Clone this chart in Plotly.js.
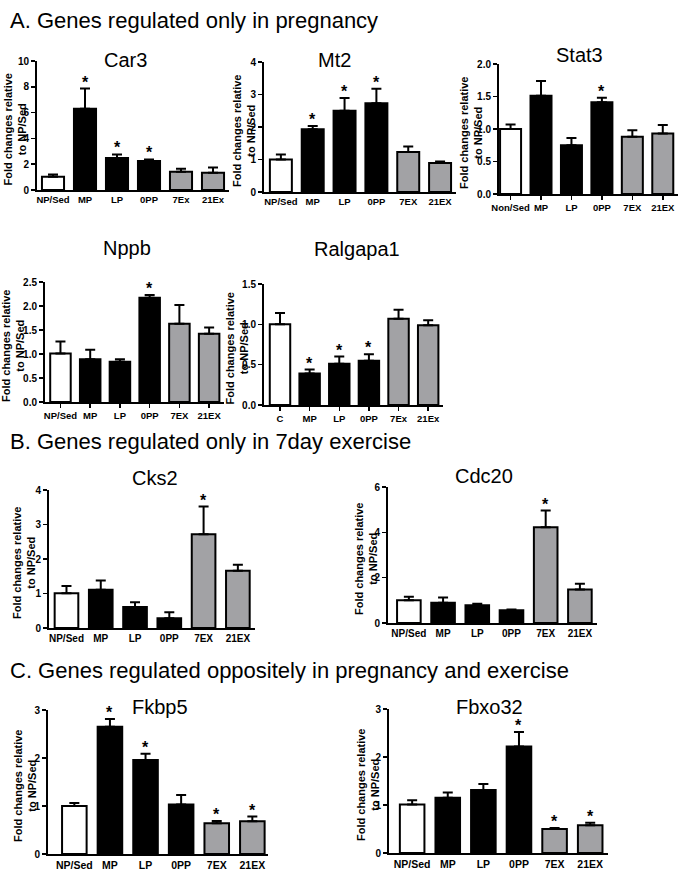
<!DOCTYPE html>
<html><head><meta charset="utf-8">
<script src="https://cdn.plot.ly/plotly-3.0.1.min.js"></script>
<style>body{margin:0;background:#fff}#chart{width:683px;height:874px}</style>
</head><body><div id="chart"></div>
<script>
// ---------- DATA ----------
const car3Groups = ['NP/Sed','MP','LP','0PP','7Ex','21Ex'];
const car3Mean = [1.03, 6.29, 2.48, 2.24, 1.42, 1.34];
const car3Sem  = [0.18, 1.57, 0.28, 0.13, 0.23, 0.41];
const car3Sig  = [0,1,1,1,0,0];

const mt2Groups = ['NP/Sed','MP','LP','0PP','7EX','21EX'];
const mt2Mean = [1.0, 1.93, 2.50, 2.73, 1.23, 0.89];
const mt2Sem  = [0.15, 0.10, 0.39, 0.45, 0.17, 0.05];
const mt2Sig  = [0,1,1,1,0,0];

const stat3Groups = ['Non/Sed','MP','LP','0PP','7EX','21EX'];
const stat3Mean = [1.0, 1.51, 0.75, 1.41, 0.88, 0.93];
const stat3Sem  = [0.07, 0.23, 0.11, 0.07, 0.10, 0.13];
const stat3Sig  = [0,0,0,1,0,0];

const nppbGroups = ['NP/Sed','MP','LP','0PP','7EX','21EX'];
const nppbMean = [1.01, 0.89, 0.84, 2.17, 1.63, 1.42];
const nppbSem  = [0.25, 0.20, 0.05, 0.06, 0.39, 0.13];
const nppbSig  = [0,0,0,1,0,0];

const ralGroups = ['C','MP','LP','0PP','7Ex','21Ex'];
const ralMean = [1.0, 0.39, 0.51, 0.55, 1.07, 0.99];
const ralSem  = [0.14, 0.05, 0.09, 0.08, 0.11, 0.06];
const ralSig  = [0,1,1,1,0,0];

const cks2Groups = ['NP/Sed','MP','LP','0PP','7EX','21EX'];
const cks2Mean = [1.01, 1.11, 0.61, 0.28, 2.72, 1.66];
const cks2Sem  = [0.21, 0.27, 0.14, 0.18, 0.80, 0.17];
const cks2Sig  = [0,0,0,0,1,0];

const cdc20Groups = ['NP/Sed','MP','LP','0PP','7EX','21EX'];
const cdc20Mean = [1.0, 0.89, 0.78, 0.56, 4.22, 1.48];
const cdc20Sem  = [0.16, 0.24, 0.07, 0.04, 0.74, 0.25];
const cdc20Sig  = [0,0,0,0,1,0];

const fkbp5Groups = ['NP/Sed','MP','LP','0PP','7EX','21EX'];
const fkbp5Mean = [1.0, 2.65, 1.96, 1.03, 0.64, 0.68];
const fkbp5Sem  = [0.06, 0.16, 0.13, 0.20, 0.05, 0.10];
const fkbp5Sig  = [0,1,1,0,1,1];

const fbxo32Groups = ['NP/Sed','MP','LP','0PP','7EX','21EX'];
const fbxo32Mean = [1.01, 1.15, 1.31, 2.22, 0.50, 0.58];
const fbxo32Sem  = [0.09, 0.11, 0.13, 0.30, 0.02, 0.05];
const fbxo32Sig  = [0,0,0,1,1,1];

const geneNames = ['Car3','Mt2','Stat3','Nppb','Ralgapa1','Cks2','Cdc20','Fkbp5','Fbxo32'];
const sectionTitles = ['A. Genes regulated only in pregnancy',
  'B. Genes regulated only in 7day exercise',
  'C. Genes regulated oppositely in pregnancy and exercise'];
const yTitle = 'Fold changes relative<br>to NP/Sed';

// ---------- STYLE / LAYOUT ----------
const W = 683, H = 874;
const barColors = ['#ffffff','#000000','#000000','#000000','#a2a2a5','#a2a2a5'];
const FONT = 'Liberation Sans, Arial, sans-serif';

const series = [
  [car3Groups, car3Mean, car3Sem, car3Sig],
  [mt2Groups, mt2Mean, mt2Sem, mt2Sig],
  [stat3Groups, stat3Mean, stat3Sem, stat3Sig],
  [nppbGroups, nppbMean, nppbSem, nppbSig],
  [ralGroups, ralMean, ralSem, ralSig],
  [cks2Groups, cks2Mean, cks2Sem, cks2Sig],
  [cdc20Groups, cdc20Mean, cdc20Sem, cdc20Sig],
  [fkbp5Groups, fkbp5Mean, fkbp5Sem, fkbp5Sig],
  [fbxo32Groups, fbxo32Mean, fbxo32Sem, fbxo32Sig]
];

const boxes = [
  {px:[37,229,61,190],  xr:[-0.5,5.5],  ym:10,  dt:2,   fmt:'',    t:[125,60],  yt:14,  xt:false, tfs:9.5},
  {px:[264,456,62,192], xr:[-0.53,5.5], ym:4,   dt:1,   fmt:'',    t:[334,60],  yt:244, xt:false, tfs:9.5},
  {px:[499,678,64,194], xr:[-0.38,5.5], ym:2,   dt:0.5, fmt:'.1f', t:[579,55],  yt:471, xt:true,  tfs:9.5},
  {px:[45,224,282,402], xr:[-0.52,5.5], ym:2.5, dt:0.5, fmt:'.1f', t:[127,248], yt:13,  xt:true,  tfs:9.5},
  {px:[264,443,284,405],xr:[-0.54,5.5], ym:1.5, dt:0.5, fmt:'.1f', t:[357,249], yt:236, xt:true,  tfs:9.5},
  {px:[49,255,490,628], xr:[-0.51,5.5], ym:4,   dt:1,   fmt:'',    t:[155,478], yt:24,  xt:false, tfs:10},
  {px:[388,597,487,623],xr:[-0.61,5.5], ym:6,   dt:2,   fmt:'',    t:[484,476], yt:366, xt:false, tfs:10},
  {px:[48,268,710,854], xr:[-0.74,5.44],ym:3,   dt:1,   fmt:'',    t:[160,707], yt:25,  xt:false, tfs:10.5},
  {px:[389,608,709,853],xr:[-0.65,5.5], ym:3,   dt:1,   fmt:'',    t:[489,707], yt:368, xt:false, tfs:10.5}
];

const traces = [];
const layout = {
  width: W, height: H,
  margin: {l:0, r:0, t:0, b:0},
  paper_bgcolor: '#fff', plot_bgcolor: 'rgba(0,0,0,0)',
  showlegend: false, bargap: 0,
  font: {family: FONT, color: '#000'},
  annotations: []
};

series.forEach((s, i) => {
  const [groups, mean, sem, sig] = s;
  const b = boxes[i];
  const n = i === 0 ? '' : String(i + 1);
  traces.push({
    type: 'bar', x: groups, y: mean, width: 0.69,
    xaxis: 'x' + n, yaxis: 'y' + n,
    marker: {color: barColors, line: {color: '#000', width: 2}},
    error_y: {type: 'data', symmetric: false, array: sem, arrayminus: sem.map(() => 0),
              color: '#000', thickness: 2, width: 5},
    hoverinfo: 'skip'
  });
  layout['xaxis' + n] = {
    domain: [b.px[0] / W, b.px[1] / W], anchor: 'y' + n,
    type: 'category', range: b.xr, showline: true, linecolor: '#000', linewidth: 2,
    ticks: b.xt ? 'outside' : '', ticklen: 4, tickwidth: 1.5, tickcolor: '#000',
    showgrid: false, zeroline: false, fixedrange: true,
    tickfont: {family: FONT, size: b.tfs, weight: 'bold', color: '#000'}
  };
  layout['yaxis' + n] = {
    domain: [1 - b.px[3] / H, 1 - b.px[2] / H], anchor: 'x' + n,
    range: [0, b.ym], dtick: b.dt, tick0: 0, tickformat: b.fmt,
    showline: true, linecolor: '#000', linewidth: 2,
    ticks: 'outside', ticklen: 4, tickwidth: 1.5, tickcolor: '#000',
    showgrid: false, zeroline: false, fixedrange: true,
    tickfont: {family: FONT, size: 10, weight: 'bold', color: '#000'}
  };
  layout.annotations.push({
    xref: 'paper', yref: 'paper', x: b.t[0] / W, y: 1 - b.t[1] / H,
    xanchor: 'center', yanchor: 'middle', showarrow: false,
    text: geneNames[i], font: {family: FONT, size: 20, color: '#000'}
  });
  layout.annotations.push({
    xref: 'paper', yref: 'paper', x: b.yt / W, y: 1 - ((b.px[2] + b.px[3]) / 2 + 4) / H,
    xanchor: 'center', yanchor: 'middle', showarrow: false, textangle: -90,
    text: yTitle, font: {family: FONT, size: 11, weight: 'bold', color: '#000'}
  });
  groups.forEach((g, k) => {
    if (sig[k]) {
      layout.annotations.push({
        xref: 'x' + n, yref: 'y' + n, x: g, y: mean[k] + sem[k],
        xanchor: 'center', yanchor: 'bottom', yshift: -4, showarrow: false,
        text: '*', font: {family: FONT, size: 16, weight: 'bold', color: '#000'}
      });
    }
  });
});

const secY = [20, 441, 670];
sectionTitles.forEach((t, i) => {
  layout.annotations.push({
    xref: 'paper', yref: 'paper', x: 8 / W, y: 1 - secY[i] / H,
    xanchor: 'left', yanchor: 'middle', showarrow: false,
    text: t, font: {family: FONT, size: 22, color: '#000'}
  });
});

Plotly.newPlot('chart', traces, layout, {displayModeBar: false, staticPlot: true});
</script>
</body></html>
